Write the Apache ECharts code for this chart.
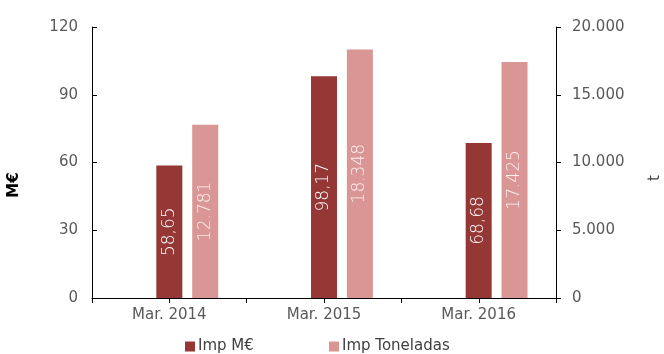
<!DOCTYPE html>
<html><head><meta charset="utf-8">
<script src="https://cdn.jsdelivr.net/npm/echarts@6/dist/echarts.min.js"></script>
<style>html,body{margin:0;padding:0;background:#fff}#c{width:664px;height:354px}</style>
</head><body><div id="c"></div>
<script>
var categories = ['Mar. 2014', 'Mar. 2015', 'Mar. 2016'];
var impMEur = [58.65, 98.17, 68.68];
var impToneladas = [12781, 18348, 17425];
var leftTicks = {min: 0, max: 120, interval: 30};
var rightTicks = {min: 0, max: 20000, interval: 5000};

function thousands(v) { return String(v).replace(/\B(?=(\d{3})+(?!\d))/g, '.'); }
var font = 'DejaVu Sans';
var chart = echarts.init(document.getElementById('c'));
chart.setOption({
  animation: false,
  backgroundColor: '#fff',
  grid: {left: 92, right: 108, top: 27, bottom: 56, containLabel: false},
  legend: [{
    data: ['Imp M€'],
    left: 180, top: 334, itemWidth: 10, itemHeight: 10, itemGap: 4,
    icon: 'rect',
    textStyle: {fontFamily: font, fontSize: 15, color: '#404040', padding: [0, 0, 0, -2]}
  }, {
    data: ['Imp Toneladas'],
    left: 324, top: 334, itemWidth: 10, itemHeight: 10,
    icon: 'rect',
    textStyle: {fontFamily: font, fontSize: 15, color: '#404040', padding: [0, 0, 0, -2]}
  }],
  xAxis: {
    type: 'category', data: categories, position: 'bottom',
    axisLine: {onZero: false, lineStyle: {color: '#000', width: 1}},
    axisTick: {show: true, interval: 0, length: 5, lineStyle: {color: '#000', width: 1}},
    axisLabel: {fontFamily: font, fontSize: 15, color: '#595959', margin: 10, interval: 0}
  },
  yAxis: [{
    type: 'value', min: leftTicks.min, max: leftTicks.max, interval: leftTicks.interval,
    splitLine: {show: false},
    axisLine: {show: true, lineStyle: {color: '#000'}},
    axisTick: {show: true, inside: true, length: 5, lineStyle: {color: '#000'}},
    axisLabel: {fontFamily: font, fontSize: 15, color: '#595959', margin: 14}
  }, {
    type: 'value', min: rightTicks.min, max: rightTicks.max, interval: rightTicks.interval,
    position: 'right',
    splitLine: {show: false},
    axisLine: {show: true, lineStyle: {color: '#000'}},
    axisTick: {show: true, inside: false, length: 5, lineStyle: {color: '#000'}},
    axisLabel: {fontFamily: font, fontSize: 15, color: '#595959', margin: 16, formatter: thousands}
  }],
  graphic: [{
    type: 'text', x: 14, y: 185, rotation: Math.PI / 2,
    style: {text: 'M€', fontFamily: font, fontSize: 15, fontWeight: 'bold', fill: '#000', align: 'center', verticalAlign: 'middle'}
  }, {
    type: 'text', x: 655, y: 178, rotation: Math.PI / 2,
    style: {text: 't', fontFamily: font, fontSize: 15, fill: '#404040', align: 'center', verticalAlign: 'middle'}
  }],
  series: [{
    name: 'ghost', type: 'bar', xAxisIndex: 0, yAxisIndex: 0, data: [null, null, null],
    barWidth: 26, barGap: '38%', silent: true
  }, {
    name: 'Imp M€', type: 'bar', xAxisIndex: 0, yAxisIndex: 0, data: impMEur,
    barWidth: 26, barGap: '38%',
    itemStyle: {color: '#953735'},
    label: {show: true, position: 'inside', rotate: 90, fontFamily: font, fontSize: 17, fontWeight: 200, color: '#fff',
      formatter: function (p) { return p.value.toFixed(2).replace('.', ','); }}
  }, {
    name: 'Imp Toneladas', type: 'bar', xAxisIndex: 0, yAxisIndex: 1, data: impToneladas,
    barWidth: 26, barGap: '38%',
    itemStyle: {color: '#DA9694'},
    label: {show: true, position: 'inside', rotate: 90, fontFamily: font, fontSize: 17, fontWeight: 200, color: '#fbeeee',
      formatter: function (p) { return thousands(p.value); }}
  }, {
    name: 'centerTicks', type: 'custom', xAxisIndex: 0, yAxisIndex: 0, silent: true, clip: false, z: 5,
    data: categories.map(function (c) { return [c, 0]; }),
    renderItem: function (params, api) {
      var p = api.coord([api.value(0), 0]);
      var x = Math.round(p[0]) + 0.5;
      return {type: 'line', shape: {x1: x, y1: p[1], x2: x, y2: p[1] + 5},
        style: {stroke: '#000', lineWidth: 1}};
    }
  }]
});
</script></body></html>
